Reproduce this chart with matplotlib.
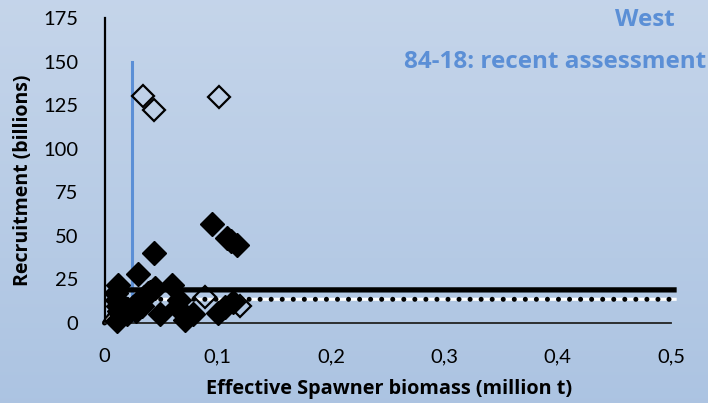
import numpy as np
import matplotlib
matplotlib.use("Agg")
import matplotlib.pyplot as plt

# ---- data ----
filled_ssb = [0.012, 0.010, 0.011, 0.012, 0.013, 0.011, 0.020, 0.025, 0.030, 0.035, 0.040,
              0.045, 0.038, 0.033, 0.028, 0.030, 0.044, 0.060, 0.049, 0.064, 0.071, 0.078,
              0.066, 0.100, 0.106, 0.113, 0.095, 0.108, 0.112, 0.117]
filled_rec = [22, 17, 13, 10, 7, 1, 5, 9, 12, 15, 18,
              20, 17, 10, 7, 28, 40, 22, 5, 9, 2, 5,
              13, 6, 9, 12, 57, 49, 47, 45]
open_ssb = [0.034, 0.044, 0.101, 0.089, 0.120]
open_rec = [130, 122, 129.6, 15, 10]
high_line_x = [0.0, 0.02, 0.505]
high_line_y = [0.0, 19.0, 19.0]
low_line_x = [0.0, 0.02, 0.505]
low_line_y = [0.0, 13.6, 13.6]
blim_x = [0.0245, 0.0245]
blim_y = [0, 150]
xticks = [0, 0.1, 0.2, 0.3, 0.4, 0.5]
xticklabels = ["0", "0,1", "0,2", "0,3", "0,4", "0,5"]
yticks = [0, 25, 50, 75, 100, 125, 150, 175]

W, H = 708, 403
fig = plt.figure(figsize=(W / 100, H / 100), dpi=100)

# gradient background
bg = fig.add_axes([0, 0, 1, 1])
top = np.array([0.772, 0.835, 0.918])
bot = np.array([0.675, 0.768, 0.886])
t = np.linspace(0, 1, 256)[:, None]
grad = top[None, :] * (1 - t) + bot[None, :] * t
bg.imshow(np.repeat(grad[:, None, :], 2, axis=1), aspect="auto", extent=[0, 1, 0, 1])
bg.axis("off")

left = 104.5 / W
right = 671 / W
bottom = (H - 323) / H
topf = (H - 18) / H
ax = fig.add_axes([left, bottom, right - left, topf - bottom])
ax.set_facecolor("none")
ax.set_xlim(0, 0.5)
ax.set_ylim(0, 175)

for s in ["top", "right"]:
    ax.spines[s].set_visible(False)
ax.spines["left"].set_linewidth(1.6)
ax.spines["bottom"].set_linewidth(1.3)
ax.spines["bottom"].set_color("#222222")

blue = "#5b8fd6"
ax.plot(blim_x, blim_y, color=blue, lw=2.2, zorder=2)
ax.plot(high_line_x, high_line_y, color="black", lw=3.8, zorder=2, clip_on=False,
        solid_capstyle="butt")
ax.plot(low_line_x, low_line_y, color="white", lw=2.2, zorder=2, clip_on=False,
        solid_capstyle="butt")
ax.plot(low_line_x, low_line_y, color="black", lw=3.6, zorder=2.1, clip_on=False,
        linestyle=(0, (0.01, 2.2)), dash_capstyle="round")

ax.plot(filled_ssb, filled_rec, linestyle="none", marker="D", markersize=12,
        color="black", zorder=3, clip_on=False)
ax.plot(open_ssb, open_rec, linestyle="none", marker="D", markersize=11.5,
        markerfacecolor="none", markeredgecolor="black", markeredgewidth=1.6, zorder=3)

ax.set_xticks(xticks)
ax.set_xticklabels(xticklabels)
ax.set_yticks(yticks)
ax.tick_params(axis="both", length=0, labelsize=14.5, colors="black")
ax.tick_params(axis="x", pad=18)
ax.tick_params(axis="y", pad=19)
for lab in ax.get_xticklabels() + ax.get_yticklabels():
    lab.set_family("Lato")

fig.text(389 / W, 1 - 389 / H, "Effective Spawner biomass (million t)", family="Open Sans",
         fontweight="bold", fontsize=14.3, ha="center", va="center")
fig.text(23 / W, 1 - 180 / H, "Recruitment (billions)", family="Open Sans",
         fontweight="bold", fontsize=14, ha="center", va="center", rotation=90)

fig.text(675 / W, 1 - 20 / H, "West", family="Open Sans", fontweight="bold",
         fontsize=17.5, color=blue, ha="right", va="center")
fig.text(706 / W, 1 - 62 / H, "84-18: recent assessment", family="Open Sans",
         fontweight="bold", fontsize=17.5, color=blue, ha="right", va="center")

fig.savefig("out.png", dpi=100)
